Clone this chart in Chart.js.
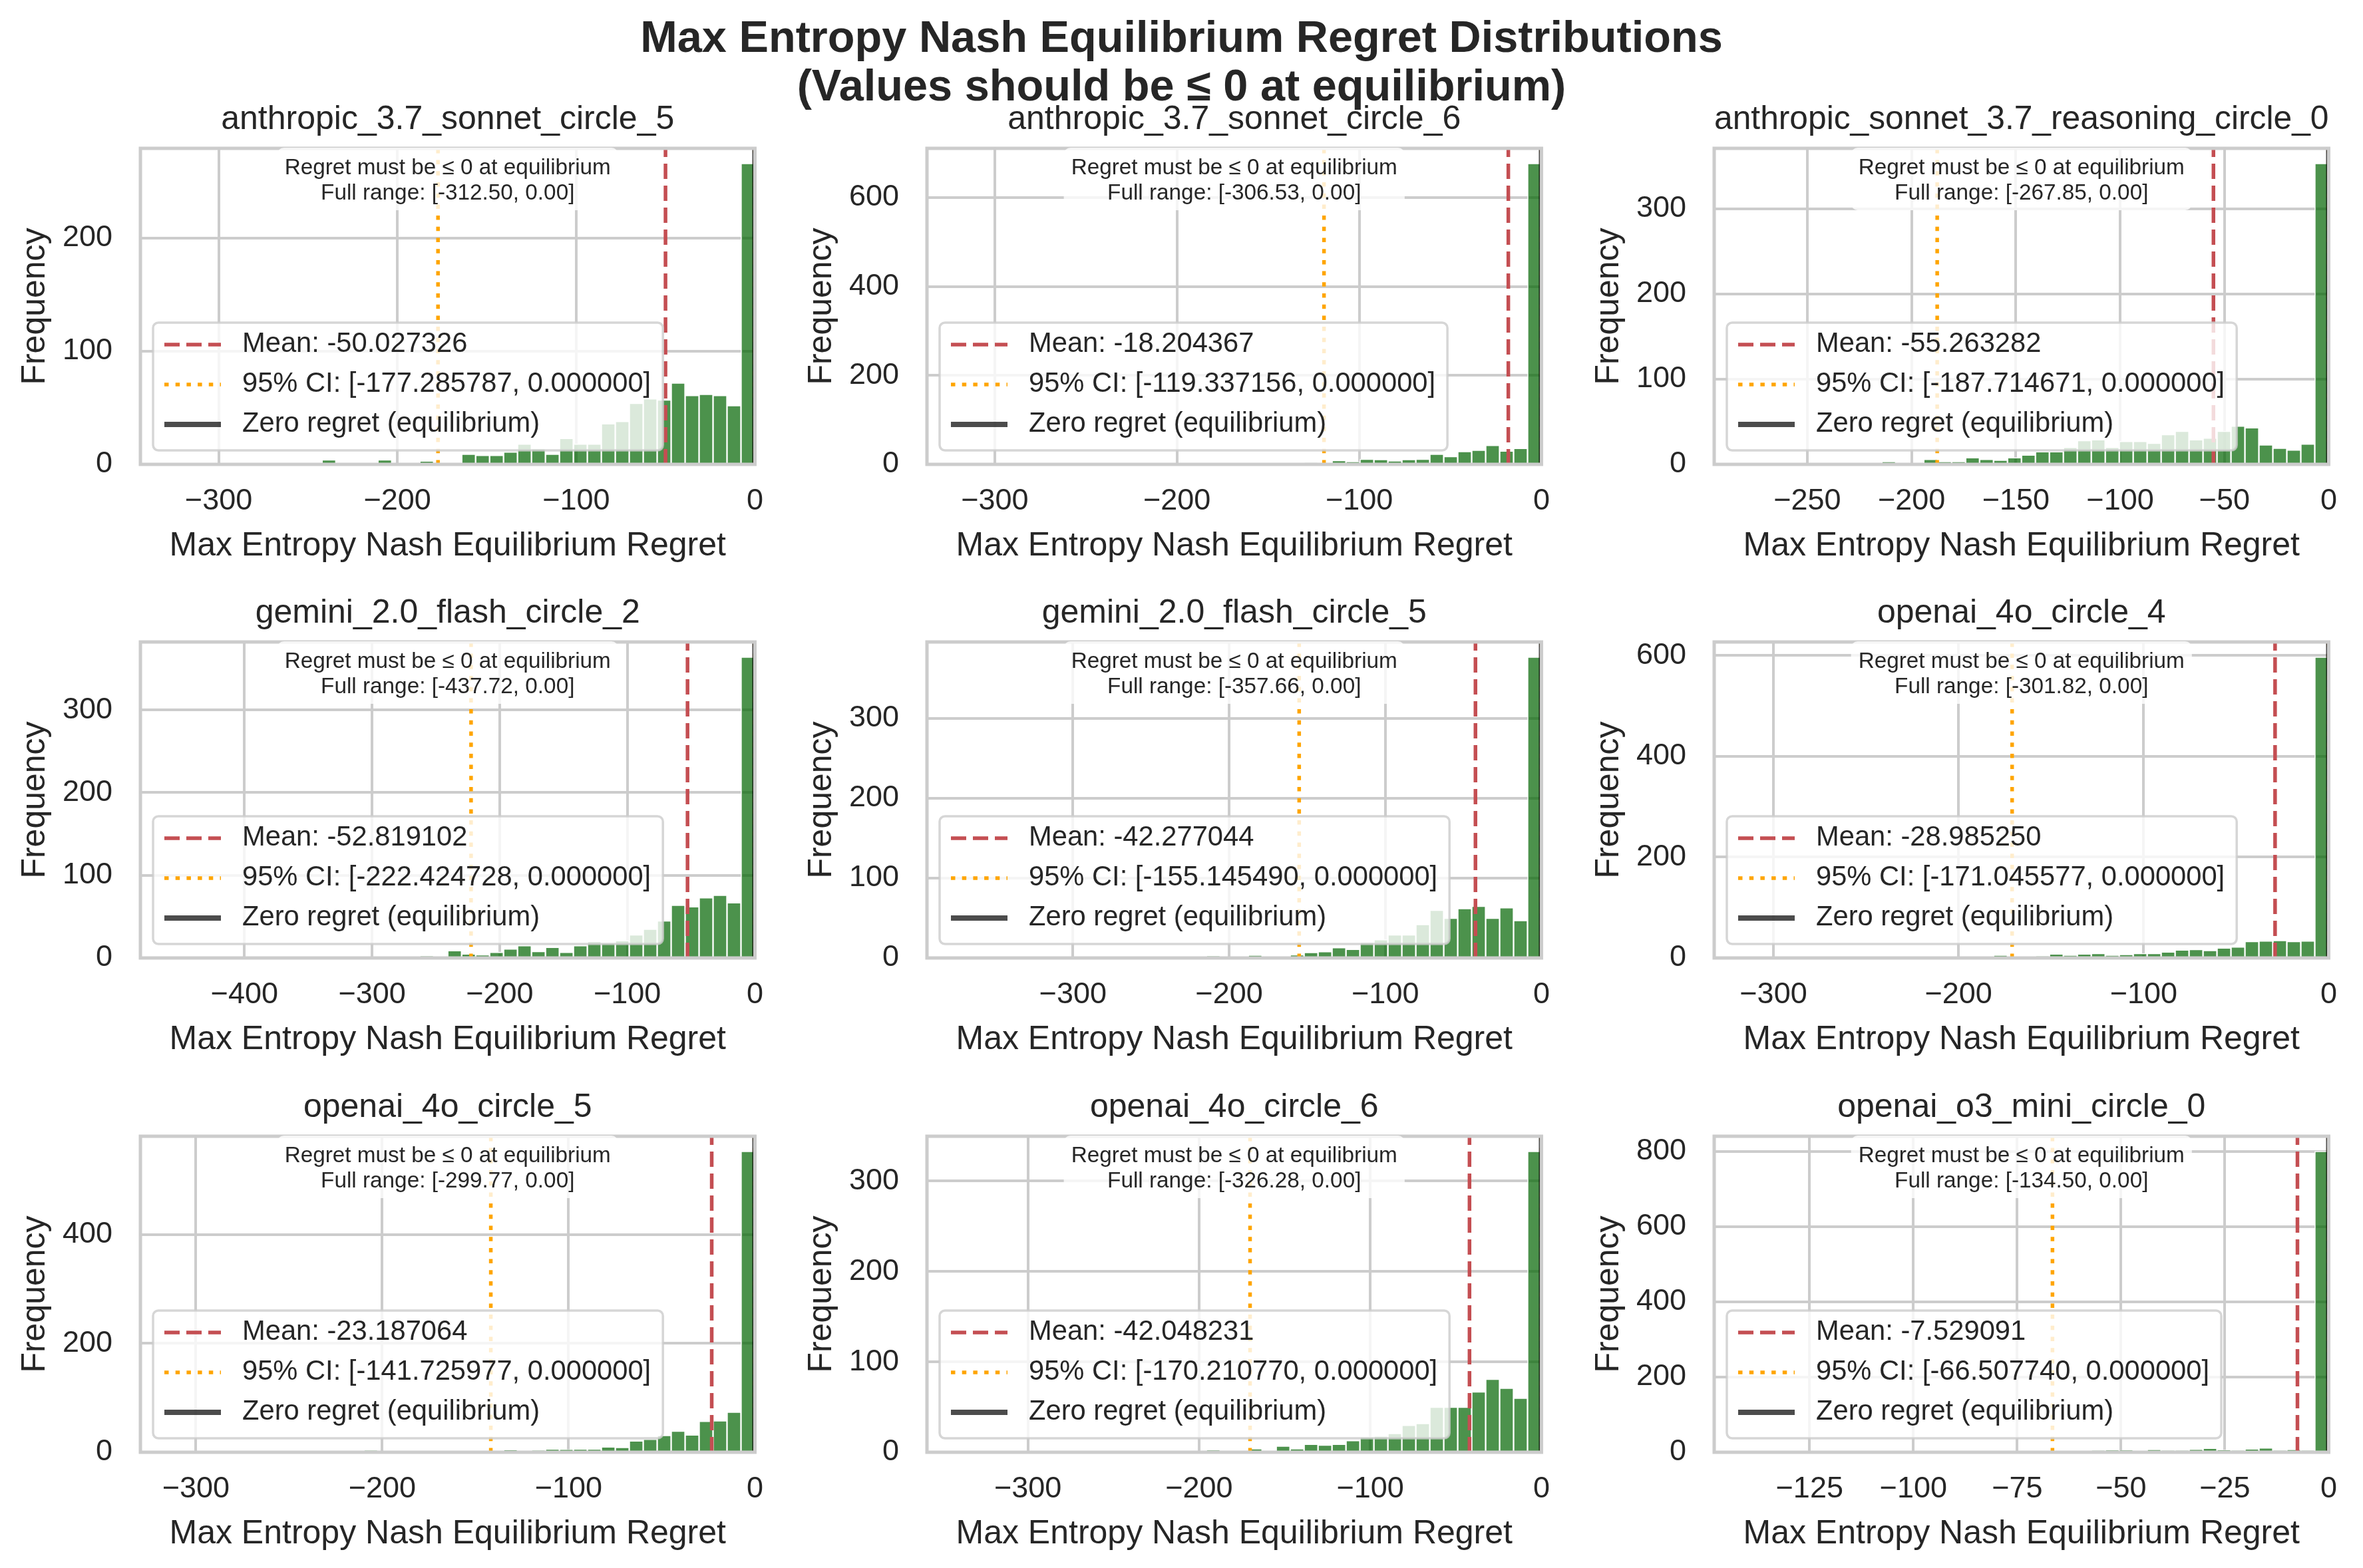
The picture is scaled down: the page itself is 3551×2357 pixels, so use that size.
<!DOCTYPE html>
<html>
<head>
<meta charset="utf-8">
<script src="https://cdn.jsdelivr.net/npm/chart.js@4.4.1/dist/chart.umd.min.js"></script>
<style>
  body { margin: 0; background: #fff; }
  #page { position: relative; width: 3551px; height: 2357px; background: #fff; overflow: hidden; }
  .suptitle {
    position: absolute; left: 0; width: 3551px; text-align: center;
    font-family: 'Liberation Sans', Arial, sans-serif; font-weight: bold;
    font-size: 66.7px; line-height: 1; color: #262626; white-space: nowrap;
  }
  canvas { position: absolute; }
</style>
</head>
<body>
<div id="page">
  <div class="suptitle" style="top:22px">Max Entropy Nash Equilibrium Regret Distributions</div>
  <div class="suptitle" style="top:95px">(Values should be ≤ 0 at equilibrium)</div>
</div>
<script>
// ---- data (40 bins per panel, left to right) ----
const panelNames = [
    'anthropic_3.7_sonnet_circle_5', 'anthropic_3.7_sonnet_circle_6', 'anthropic_sonnet_3.7_reasoning_circle_0',
    'gemini_2.0_flash_circle_2', 'gemini_2.0_flash_circle_5', 'openai_4o_circle_4',
    'openai_4o_circle_5', 'openai_4o_circle_6', 'openai_o3_mini_circle_0'
];

const counts1 = [1,0,0,0,0,1,0,0,1,4,0,1,1,4,0,0,3,1,1,9,8,8,11,18,14,9,23,18,18,36,38,54,58,57,72,61,62,61,52,266];
const counts2 = [1,0,0,0,0,0,0,0,0,0,0,0,0,0,0,0,0,0,0,0,0,0,0,3,2,9,6,12,11,8,11,12,23,18,29,32,43,30,36,677];
const counts3 = [1,0,0,0,0,1,1,0,3,1,1,6,3,3,8,6,5,8,11,15,15,20,28,29,20,27,27,25,35,39,29,31,39,45,43,23,19,17,24,353];
const counts4 = [1,0,0,0,0,0,0,0,0,0,0,0,0,0,0,0,2,0,9,5,4,7,11,15,8,13,7,15,20,18,21,28,35,45,64,62,73,76,67,364];
const counts5 = [1,0,0,0,0,0,0,0,0,0,0,0,0,0,0,0,2,0,0,3,0,0,4,7,8,13,11,20,23,29,29,42,60,50,62,65,50,63,47,377];
const counts6 = [1,0,0,0,0,0,0,0,0,0,0,0,0,0,0,0,5,0,0,3,8,5,8,9,5,7,9,9,12,16,17,15,20,22,33,34,35,33,34,597];
const counts7 = [1,0,0,0,0,0,0,0,0,0,0,0,3,0,0,0,0,0,0,0,0,2,4,0,3,6,5,6,6,10,9,21,24,31,39,32,57,58,74,553];
const counts8 = [1,0,0,0,0,0,0,1,0,0,0,0,0,0,0,0,2,1,1,4,1,7,4,9,8,9,13,17,18,21,30,32,50,50,50,67,81,71,60,333];
const counts9 = [1,0,0,0,0,0,0,0,0,0,0,0,0,0,0,0,0,0,0,0,2,0,0,4,5,5,2,7,4,4,8,11,6,4,9,12,4,7,4,800];
const allCounts = [counts1, counts2, counts3, counts4, counts5, counts6, counts7, counts8, counts9];

const minValues  = [-312.50, -306.53, -267.85, -437.72, -357.66, -301.82, -299.77, -326.28, -134.50];
const meanValues = [-50.027326, -18.204367, -55.263282, -52.819102, -42.277044, -28.985250, -23.187064, -42.048231, -7.529091];
const ciLowValues = [-177.285787, -119.337156, -187.714671, -222.424728, -155.145490, -171.045577, -141.725977, -170.210770, -66.507740];

const xTicks = [
    [-300, -200, -100, 0], [-300, -200, -100, 0], [-250, -200, -150, -100, -50, 0],
    [-400, -300, -200, -100, 0], [-300, -200, -100, 0], [-300, -200, -100, 0],
    [-300, -200, -100, 0], [-300, -200, -100, 0], [-125, -100, -75, -50, -25, 0]
];
const yTicks = [
    [0, 100, 200], [0, 200, 400, 600], [0, 100, 200, 300],
    [0, 100, 200, 300], [0, 100, 200, 300], [0, 200, 400, 600],
    [0, 200, 400], [0, 100, 200, 300], [0, 200, 400, 600, 800]
];

// ---- layout / style ----
const FONT = "'Liberation Sans', Arial, sans-serif";
const TEXT = '#262626';
const GRID = '#cccccc';
const colLeft = [211, 1393, 2576];   // axes left edges
const rowTop = [223, 965, 1708];     // axes top edges
const AX_W = 940, AX_H = 475;
const LEFT_BOX = 211, RIGHT_PAD = 25, TOP_BOX = 150, BOTTOM_BOX = 160;

Chart.defaults.font.family = FONT;
Chart.defaults.color = TEXT;

function roundRect(ctx, x, y, w, h, r) {
    ctx.beginPath();
    ctx.moveTo(x + r, y);
    ctx.arcTo(x + w, y, x + w, y + h, r);
    ctx.arcTo(x + w, y + h, x, y + h, r);
    ctx.arcTo(x, y + h, x, y, r);
    ctx.arcTo(x, y, x + w, y, r);
    ctx.closePath();
}

// frame, note box and legend, drawn like matplotlib does (legend on top)
const histDecor = {
    id: 'histDecor',
    afterDatasetsDraw(chart) {
        const {ctx, chartArea: a} = chart;
        ctx.save();
        ctx.strokeStyle = GRID;
        ctx.lineWidth = 5;
        ctx.strokeRect(a.left, a.top, a.right - a.left, a.bottom - a.top);
        ctx.restore();
    },
    afterDraw(chart, args, opts) {
        const {ctx, chartArea: a} = chart;
        ctx.save();

        // note box at the top
        ctx.font = '33.3px ' + FONT;
        const lines = opts.note;
        const nw = Math.max(...lines.map(t => ctx.measureText(t).width)) + 22;
        const cx = (a.left + a.right) / 2;
        roundRect(ctx, cx - nw / 2, a.top - 1, nw, 94, 10);
        ctx.fillStyle = 'rgba(255,255,255,0.8)';
        ctx.fill();
        ctx.fillStyle = TEXT;
        ctx.textAlign = 'center';
        ctx.textBaseline = 'alphabetic';
        ctx.fillText(lines[0], cx, a.top + 39);
        ctx.fillText(lines[1], cx, a.top + 77);

        // legend
        const items = chart.data.datasets.filter(d => d.inLegend);
        ctx.font = '41.7px ' + FONT;
        const tw = Math.max(...items.map(d => ctx.measureText(d.label).width));
        const lw = 134 + tw + 18, lh = 192;
        const lx = a.left + 19, ly = a.bottom - 21 - lh;
        roundRect(ctx, lx, ly, lw, lh, 8);
        ctx.fillStyle = 'rgba(255,255,255,0.8)';
        ctx.fill();
        ctx.strokeStyle = 'rgba(204,204,204,0.8)';
        ctx.lineWidth = 3.5;
        ctx.stroke();
        items.forEach((d, i) => {
            const y = ly + 33 + i * 60;
            ctx.beginPath();
            ctx.setLineDash(d.borderDash || []);
            ctx.strokeStyle = d.borderColor;
            ctx.lineWidth = d.borderWidth;
            ctx.moveTo(lx + 17, y);
            ctx.lineTo(lx + 102, y);
            ctx.stroke();
            ctx.setLineDash([]);
            ctx.fillStyle = TEXT;
            ctx.textAlign = 'left';
            ctx.textBaseline = 'middle';
            ctx.fillText(d.label, lx + 134, y);
        });
        ctx.restore();
    }
};

function vline(x, yTop, label, color, dash, width, order, inLegend) {
    return {
        type: 'line',
        label: label,
        data: [{x: x, y: 0}, {x: x, y: yTop}],
        borderColor: color,
        borderDash: dash,
        borderWidth: width,
        pointRadius: 0,
        fill: false,
        clip: 0,
        order: order,
        inLegend: inLegend
    };
}

function drawPanel(p) {
    const col = p % 3, row = Math.floor(p / 3);
    const counts = allCounts[p];
    const lo = minValues[p];
    const binW = -lo / counts.length;
    const yMax = Math.max(...counts) * 1.05;

    const canvas = document.createElement('canvas');
    canvas.width = LEFT_BOX + AX_W + RIGHT_PAD;
    canvas.height = TOP_BOX + AX_H + BOTTOM_BOX;
    canvas.style.left = (colLeft[col] - LEFT_BOX) + 'px';
    canvas.style.top = (rowTop[row] - TOP_BOX) + 'px';
    document.getElementById('page').appendChild(canvas);

    const bars = counts.map((c, i) => ({x: lo + (i + 0.5) * binW, y: c}));

    new Chart(canvas, {
        type: 'bar',
        data: {
            datasets: [
                {
                    label: 'Frequency',
                    data: bars,
                    backgroundColor: 'rgba(0,100,0,0.7)',
                    borderColor: '#ffffff',
                    borderWidth: 1.5,
                    barPercentage: 1,
                    categoryPercentage: 1,
                    order: 10
                },
                vline(meanValues[p], yMax, 'Mean: ' + meanValues[p].toFixed(6), '#C44E52', [23, 10], 5.5, 4, true),
                vline(ciLowValues[p], yMax, '95% CI: [' + ciLowValues[p].toFixed(6) + ', 0.000000]', '#FFA500', [6.5, 10.2], 5.5, 3, true),
                vline(0, yMax, '95% CI upper', '#FFA500', [6.5, 10.2], 5.5, 2, false),
                vline(0, yMax, 'Zero regret (equilibrium)', 'rgba(0,0,0,0.7)', [], 8, 1, true)
            ]
        },
        options: {
            responsive: false,
            animation: false,
            devicePixelRatio: 1,
            events: [],
            layout: { padding: { left: 0, right: RIGHT_PAD, top: 0, bottom: 0 } },
            plugins: {
                legend: { display: false },
                tooltip: { enabled: false },
                title: {
                    display: true,
                    text: panelNames[p],
                    fullSize: false,
                    color: TEXT,
                    font: { size: 50, weight: 'normal', lineHeight: 1.2 },
                    padding: { top: 77.5, bottom: 12.5 }
                },
                histDecor: {
                    note: ['Regret must be ≤ 0 at equilibrium', 'Full range: [' + lo.toFixed(2) + ', 0.00]']
                }
            },
            scales: {
                x: {
                    type: 'linear',
                    offset: false,
                    bounds: 'data',
                    min: lo * 1.1,
                    max: 0,
                    grid: { color: GRID, lineWidth: 4, drawTicks: false, offset: false },
                    border: { display: false },
                    ticks: {
                        autoSkip: false,
                        maxRotation: 0,
                        padding: 29,
                        color: TEXT,
                        font: { size: 45 },
                        callback: v => v < 0 ? '\u2212' + (-v) : String(v)
                    },
                    afterBuildTicks: s => { s.ticks = xTicks[p].map(v => ({value: v})); },
                    afterFit: s => { s.height = BOTTOM_BOX; },
                    title: {
                        display: true,
                        text: 'Max Entropy Nash Equilibrium Regret',
                        color: TEXT,
                        font: { size: 50, lineHeight: 1.2 },
                        padding: { top: 0, bottom: 7 }
                    }
                },
                y: {
                    min: 0,
                    max: yMax,
                    grid: { color: GRID, lineWidth: 4, drawTicks: false },
                    border: { display: false },
                    ticks: {
                        padding: 42,
                        color: TEXT,
                        font: { size: 45 },
                        callback: v => String(v)
                    },
                    afterBuildTicks: s => { s.ticks = yTicks[p].map(v => ({value: v})); },
                    afterFit: s => { s.width = LEFT_BOX; },
                    title: {
                        display: true,
                        text: 'Frequency',
                        color: TEXT,
                        font: { size: 50, lineHeight: 1.2 },
                        padding: { top: 23, bottom: 0 }
                    }
                }
            }
        },
        plugins: [histDecor]
    });
}

function drawAll() {
    for (let p = 0; p < 9; p++) drawPanel(p);
}

if (document.fonts && document.fonts.load) {
    Promise.all([
        document.fonts.load("45px 'Liberation Sans'"),
        document.fonts.load("bold 45px 'Liberation Sans'")
    ]).then(drawAll, drawAll);
} else {
    drawAll();
}
</script>
</body>
</html>
